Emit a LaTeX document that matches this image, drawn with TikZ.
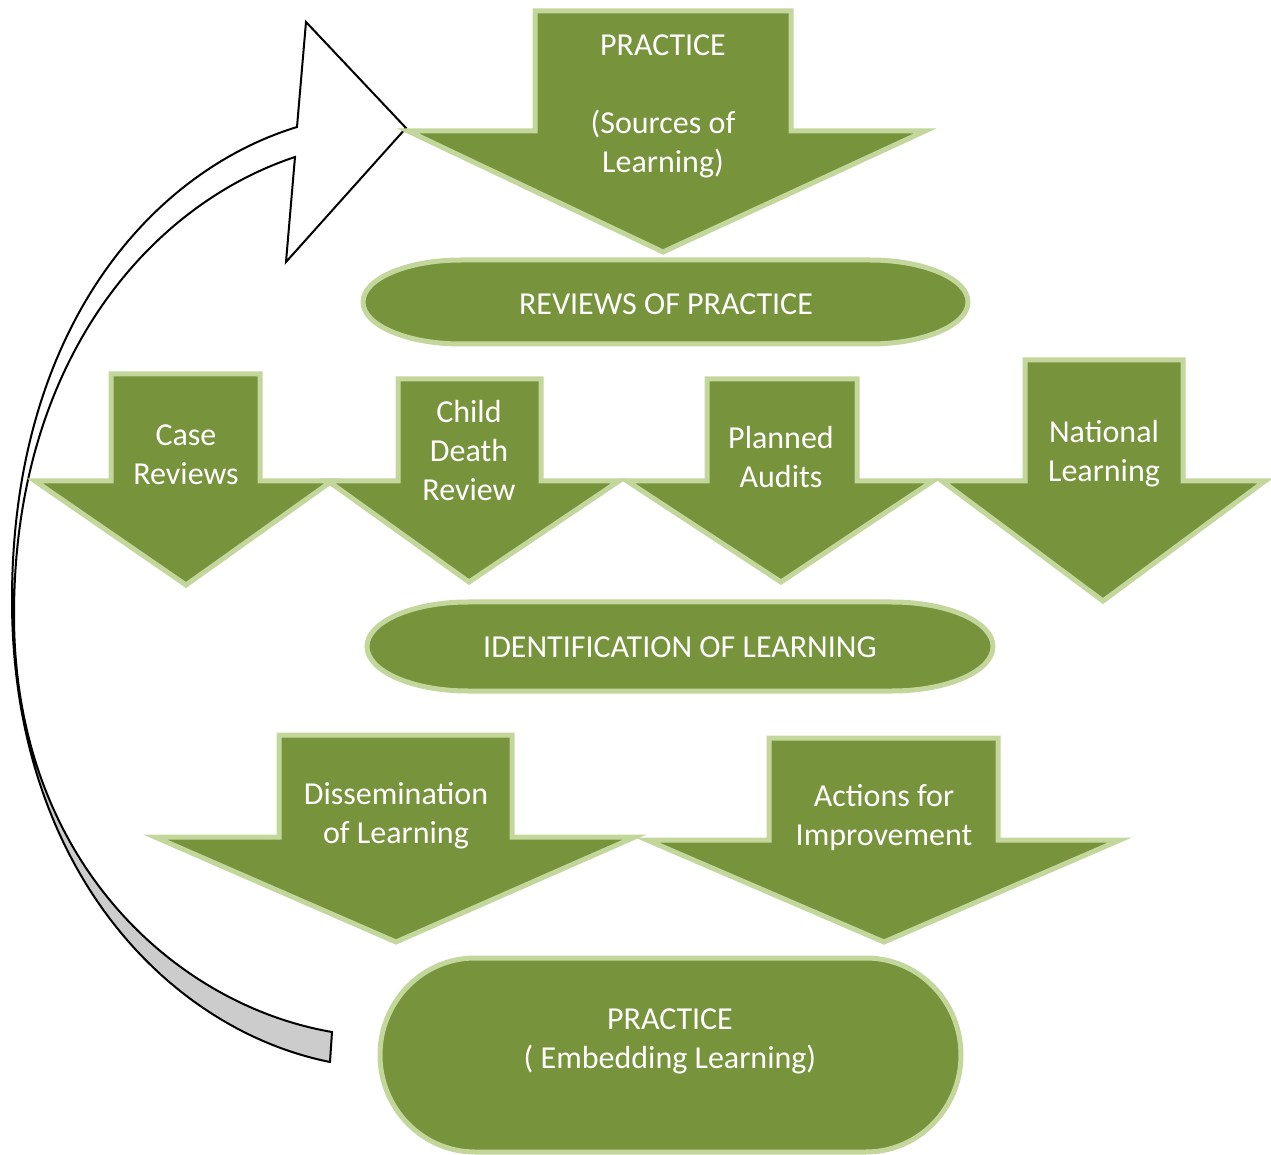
\documentclass[tikz,border=0pt]{standalone}
\usepackage{fontspec}
\setmainfont{Carlito}
\definecolor{arrowgreen}{HTML}{77933C}
\definecolor{edgegreen}{HTML}{C3D69B}
\definecolor{backgray}{HTML}{CCCCCC}
\newcommand\downarrowshape[8]{%
  \draw[greenshape] (#1,#3) -- (#2,#3) -- (#2,#4) -- (#6,#4) -- (#7,#8) -- (#5,#4) -- (#1,#4) -- cycle;}
\newcommand\termshape[5]{%
  \draw[greenshape] ({#1+#5},#2) -- ({#3-#5},#2)
    .. controls ({#3-#5+0.5523*#5},#2) and (#3,{(#2+#4)/2-0.5523*(#4-#2)/2}) .. (#3,{(#2+#4)/2})
    .. controls (#3,{(#2+#4)/2+0.5523*(#4-#2)/2}) and ({#3-#5+0.5523*#5},#4) .. ({#3-#5},#4)
    -- ({#1+#5},#4)
    .. controls ({#1+#5-0.5523*#5},#4) and (#1,{(#2+#4)/2+0.5523*(#4-#2)/2}) .. (#1,{(#2+#4)/2})
    .. controls (#1,{(#2+#4)/2-0.5523*(#4-#2)/2}) and ({#1+#5-0.5523*#5},#2) .. cycle;}
\begin{document}
\begin{tikzpicture}[x=0.5pt,y=-0.5pt,
  greenshape/.style={fill=arrowgreen,draw=edgegreen,line width=2.5pt,line join=miter},
  label/.style={text=white,align=center,inner sep=0pt,font=\fontsize{16}{19.5}\selectfont},
  curvebody/.style={draw=black,line width=1pt,line join=miter}]
\useasboundingbox (0,0) rectangle (1271,1155);
% curved return arrow
\path[fill=white] (297,127) .. controls (150,172) and (12,330) .. (12,600)
   .. controls (12,870) and (170,1030) .. (330,1062) -- (332,1032)
   .. controls (175,1005) and (14,860) .. (14,615)
   .. controls (14,360) and (150,205) .. (295,157)
   -- (286,262) -- (406,128) -- (306,22) -- cycle;
\path[fill=backgray] (12,600) .. controls (12,870) and (170,1030) .. (330,1062) -- (332,1032)
   .. controls (175,1005) and (14,860) .. (14,615) -- cycle;
\draw[curvebody] (297,127) .. controls (150,172) and (12,330) .. (12,600)
   .. controls (12,870) and (170,1030) .. (330,1062) -- (332,1032)
   .. controls (175,1005) and (14,860) .. (14,615)
   .. controls (14,360) and (150,205) .. (295,157)
   -- (286,262) -- (406,128) -- (306,22) -- cycle;
\coordinate (loopend) at (406,128);
% top arrow
\downarrowshape{535}{791}{11}{131}{408}{925}{663}{252}
\node[label] (src) at (663,106) {PRACTICE\\~\\(Sources of\\Learning)};
% reviews terminator
\termshape{363}{260}{968}{344}{98}
\node[label] (reviews) at (666,304) {REVIEWS OF PRACTICE};
% four source arrows
\downarrowshape{111}{260}{374}{481}{35}{332}{186}{585}
\node[label] (case) at (186,455) {Case\\Reviews};
\downarrowshape{398}{541}{379}{481}{328}{619}{469}{582}
\node[label] (child) at (469,451) {Child\\Death\\Review};
\downarrowshape{707}{857}{379}{481}{627}{933}{781}{582}
\node[label] (audits) at (781,457) {Planned\\Audits};
\downarrowshape{1025}{1183}{360}{481}{942}{1265}{1103}{601}
\node[label] (national) at (1104,454) {National\\Learning};
% identification terminator
\termshape{367}{602}{993}{691}{101}
\node[label] (ident) at (680,647) {IDENTIFICATION OF LEARNING};
% outcome arrows
\downarrowshape{279}{512}{735}{837}{155}{635}{396}{942}
\node[label] (dissem) at (396,816) {Dissemination\\of Learning};
\downarrowshape{769}{998}{738}{840}{647}{1120}{884}{942}
\node[label] (actions) at (884,818) {Actions for\\Improvement};
% bottom practice
\termshape{380}{958}{961}{1152}{95}
\node[label] (embed) at (670,1041) {PRACTICE\\( Embedding Learning)};
\end{tikzpicture}
\end{document}
